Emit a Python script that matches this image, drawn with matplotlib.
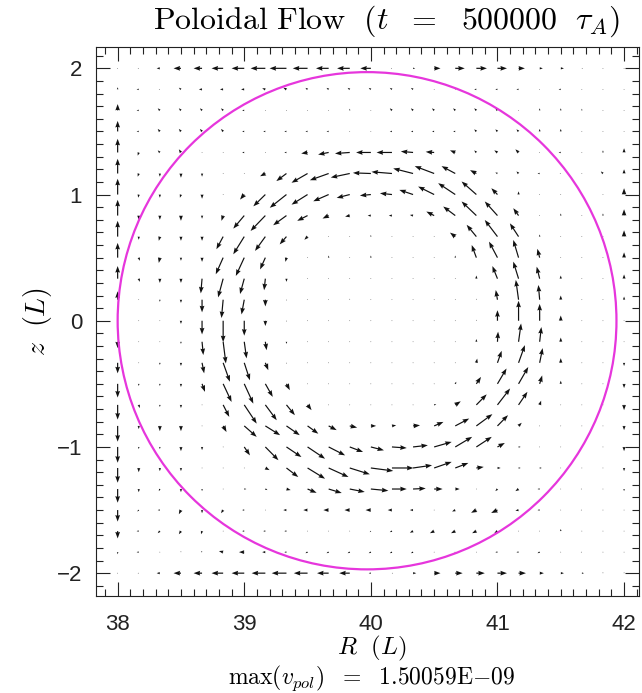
import numpy as np
import matplotlib.pyplot as plt
from matplotlib.patches import Circle
from matplotlib.ticker import MultipleLocator

plt.rcParams['mathtext.fontset'] = 'cm'

# grid of the flow field (R across, z down from the top row)
r_grid = np.linspace(38.0, 42.0, 25)
z_grid = np.linspace(2.0, -2.0, 25)

# v_R and v_z, 10 = longest arrow (one grid cell)
v_r = [
    [0, -0.5, -1.5, -3.5, -4, -5.5, -6, -7, -8, -7, -6, -6, -5, -0.5, 1, 3, 4.5, 5, 4.5, 3, 1.5, 1.5, 0.5, 0.3, 0.3],
    [0, -1, -0.5, -1, -1.5, -1.5, -1.5, -1.5, -1.5, -1, -1, -1, -1, -1, -1, -0.3, -0.3, -1, -1, -1, -0.3, -1, -0.3, -0.3, 0],
    [0, -1, -1, -1, -1, -1, -1, -0.3, -0.3, -0.3, -0.3, 0, -0.3, -1, -1, -1, -1, -1, -1, -0.3, 0, 0, 0, 0, 0],
    [0, -1, -1, -1, -1, -1, -1, -1, -1, -1, -1, -0.3, -0.3, -1, -1, -1, -1, -1, -1, -1, 0, 0, 0, 0, 0],
    [0, -0.5, -1, -1, -0.3, -0.3, -1, -0.3, -1, -3, -5, -7, -7, -7.3, -5.8, -4, -2.5, -1, -1.5, -1.5, -0.3, -1, 0, 0, 0],
    [0, -0.5, 0, 0, 0, -0.3, -0.3, -2.5, -4.8, -7.6, -8.9, -9, -8.5, -9.7, -9.4, -9.2, -6.5, -3, -1, -1, -1, -0.5, -0.3, -1, 0],
    [0, -0.3, 0, -0.5, 0, -0.3, -2, -5.7, -7.9, -7.6, -7.3, -6.2, -5.2, -5.7, -6.5, -7.6, -8.1, -7, -2.9, 0, 0, 0, 0, 0, 0],
    [0, 0, 0, 0, 0, -0.8, -5.2, -7, -6.3, -4.9, -2.9, -2.2, -1.5, -1.5, -1.5, -3.7, -5.7, -7, -6, -2.5, 0, 0, 0, 0, 0],
    [0, 0, -0.5, 0, 0, -3.2, -5.2, -4.9, -3.2, -1.5, 0, 0, 0, 0, 0, 0, -2.5, -4.6, -6, -4.1, 0, 0, 0, 0, 0],
    [0, 0.5, -0.5, 0, 0, -3.5, -4, -2.5, -0.5, 0, 0, 0, 0, 0, 0, 0, 0, -2.2, -4, -2.5, -1.1, 0, 0, 0, 0],
    [0, 0.5, 0, 0, -0.6, -2.4, -2, -0.6, 0, 0, 0, 0, 0, 0, 0, 0, 0, 0, -2.4, -2.5, -1.4, 0, 0, 0, 0],
    [0, -0.3, 0, 0, 0, -0.8, -1.3, 0, 0, 0, 0, 0, 0, 0, 0, 0, 0, 0, -0.8, -1.3, -0.6, 0, 0, 0, 0],
    [0, 0, 0, 0, 0, 0, 0, 0, 0, 0, 0, 0, 0, 0, 0, 0, 0, 0, 0, 0, 0, 0, 0, 0, 0],
    [0, -0.3, 0, 0, 0.6, 1.3, 1.1, 0.6, 0, 0, 0, 0, 0, 0, 0, 0, 0, 0, 0.3, 1.2, 0.8, 0, 0, 0, 0],
    [0, 0, 0, 0, 1, 3.2, 2.7, 1.4, 0, 0, 0, 0, 0, 0, 0, 0, 0, 0.4, 2, 3, 1.4, 0, 0, 0, 0],
    [0, 0, 0, 0, 1.4, 4, 4.3, 3.5, 1.6, 0, 0, 0, 0, 0, 0, 0, 0.5, 2.2, 4.3, 4.6, 1.2, 0, 0, 0, 0],
    [0, 0.5, 0, 0, 0, 2.9, 5.9, 5.4, 4, 1.9, 0, 0, 0, 0, 0, 1, 2.6, 4.9, 6, 4.2, 0.7, 0, 0, 0, 0],
    [0, 0, 0, 0, 0, 1.6, 5.9, 7, 6.3, 5.1, 3.8, 3.5, 2.5, 2, 3.3, 4.4, 6.6, 7.6, 5, 1.5, 0, 0, 0, 0, 0],
    [0, 0, 0, 0, 0, 0, 2.7, 6.2, 7.1, 8.3, 7.8, 6.3, 6.2, 7, 7, 8.3, 8, 7.3, 3.5, 1, 0, 0, 0, 0, 0],
    [0, 0, 0, 0, 0, 0, 0, 2, 5.6, 8.3, 9.4, 9.5, 10.6, 10.2, 9, 8.3, 6.2, 3.5, 1.5, 1, 1, 0, 0, 0, 0],
    [0, 0, -0.5, 0, 0, 0, 1, 1, 2, 4.3, 6.2, 7.1, 8.3, 7, 6, 4, 2.1, 0, -1, -1.5, -1, 0, -0.5, 0, 0],
    [0, -0.7, -1, -1, 0, -1, -1, -0.3, -1.5, -2, -2.5, -2.5, -2.5, -2, -1.5, 0, -1.5, -2.5, -3, -1.5, -1, 0, -0.5, 0, 0],
    [0, -1, -1, -1, -0.5, 0, -1, -1, -1, -0.3, -0.3, -0.3, -0.5, -1, -1.5, -2, -2, -2, -1.5, 0, 0, 0, 0, 0, 0],
    [0, -1, 0, 0, -0.5, -2, -2.5, -1.5, -1, -1, -1, -1, -1, -1, -1, 0, -0.5, 0, -1, -1, -1, 0, -0.5, 0, 0],
    [0, -0.5, -1.5, -3.5, -4, -5.5, -6, -6.5, -7, -6.5, -5.5, -5, -1, 0.5, 1.5, 3, 3.5, 4, 4.5, 3.5, 2, 1.5, 1, 0, 0],
]
v_z = [
    [0, 0, 0, 0, 0, 0, 0, 0, 0, 0, 0, 0, 0, 0, 0, 0, 0, 0, 0, 0, 0, 0, 0, 0, 0],
    [1, 0, 0, 0.8, 0, 0, 0, 0.5, 0.8, 0.7, 0.7, 0.7, 0.7, 0.7, 0.7, 0, 0, 0, 0, 0, 0, 0, 0, 0, 0],
    [3, 0, 1, 1, 1, 1, 0, 0, 0, 0, 0, 0.8, 0, 1, 1, 1, 1, 1, 1, 0, 1, 1, 0.8, 0, 0],
    [5, 0, 1.2, 1.2, 1.2, 1.2, 0, 0, 0, 0, 0, 0, 0, 0, 0, 0, 0, 1, 1, 1, 1.2, 1.2, 0, 0, 0],
    [6.5, -1.5, 1, 1.5, 0, 0, 0, 0, 0, -0.5, -1, -0.5, 0, 0, 0.5, 0.3, 1, 1, 1, 1.5, 0, 0, 0, 1, 2],
    [7, -1.5, -1.5, -2, -1.5, 0, 0, -1.3, -3.6, -4.4, -3.2, -1.9, 0.3, 0.8, 2.4, 3.5, 3.5, 1.6, 0.5, 1, 0, 0, 0, 1, 2],
    [7.5, -1.5, -1.5, -1.5, -2, 0, -2.4, -5.6, -6.3, -4.8, -3.2, -1.6, -0.5, 0.6, 2.2, 3.8, 5.4, 6.2, 3, 1.5, 0, 0, 0, 0, 3],
    [7.5, -2, -2, -2.5, -1.5, -2.5, -6.2, -7.3, -4.6, -2.5, -1.4, -0.5, 0, 0, 0.3, 1.9, 4.3, 6.7, 6.7, 3.5, 0, 1, 0, 1, 3],
    [7.5, -1.5, -2, -2, -2, -6, -8.4, -6.8, -3.7, -1.5, 0, 0, 0.8, 0, 0, 0, 1.9, 5.6, 7.9, 6.3, 1, 0, 0, 0, 3],
    [7, -1.5, -2.5, -1.5, -2, -7.9, -8.7, -5.6, -2, 0, 1, 0, 1, 0, 0, 0, 1, 6, 7.6, 8.4, 4.2, 0, 0, 0, 2.5],
    [6, -1.5, -2, -2, -7, -8.9, -7.3, -5.5, -1.5, 0, 0, 0, 0, 0, 0, 0, 0, 1.5, 6, 8.1, 5.7, 1.5, 0, 0, 2],
    [4, 0, -1, -1.5, -6, -8.7, -7, -3.2, -0.5, 0, 0, 0.5, 0, 0, 0, 0, 0, 0.5, 4.6, 9.4, 7, 2, 0, 0, 1.5],
    [0.5, 0, 0, -1.5, -6.5, -10.2, -7.1, -2.5, -0.5, 0, 0, 0, 0, 0, 0, 0, 0, 0.5, 5, 9.5, 8, 2.5, 0, 0, 0],
    [-3, 0, 0, -1, -6.3, -10.3, -7.9, -4, -1, 0, 0, 0, 0, 0, 0, 0, 0, 1.3, 4.8, 8.7, 7, 2, 0, 0, 0],
    [-5, 0, -1, -1.5, -5, -9, -8.3, -3.5, -0.5, 0, 0, 0, 0, 0, 0, 0, 0, 2, 5.7, 8.4, 7, 2.2, 0, 0, -1.5],
    [-6.5, -1, -1, -1.5, -3.8, -8.6, -9.4, -6.2, -3, 0, 0, 0, 0, 0, 0, 0, 1, 3.3, 7.3, 8, 4, 1.5, 0, 0, -2],
    [-7, -1.5, -1, -1.5, 0, -5.7, -8.9, -7.3, -4.9, -2.5, 0, 0, 0, 0, 0, 0.3, 1.7, 5, 7.8, 6.2, 2, 0, 0, 0, -2.5],
    [-7.5, -1.5, -2.5, -2.5, 0, -2.9, -5.2, -4.4, -4.4, -3.7, -2, -0.8, 0, 0.3, 0.3, 1.9, 3.5, 5.6, 5.1, 1.5, 0, 0, 0, 0, -2],
    [-7.5, -1, -1, -2, -1.5, 0, -4, -6.3, -4.8, -5.6, -4, -2.4, -1.6, -0.5, 0.8, 2.4, 4.8, 4.8, 1.9, 0, 0, 0, 0, 0, -2],
    [-7, -2, -1.5, -1.5, 0, 0, 0, -1, -4.3, -5.1, -4.3, -3, -1.4, 0, 1.3, 2.9, 2.4, 0.5, 0, 0, 0, 0, 0, 0, -1.5],
    [-6.5, -1.5, -1, -1.5, -1, 0, 0, -0.5, -0.5, -1.8, -1.9, -1.4, -0.8, 0, 0.3, 0, 0, 0, -1, -1, 0, 0, 0, 0, -1],
    [-5.5, -0.7, 0, -2, -1.5, -1.5, 0, 0, 0, 0, 0, 0, 0, 0, 0, 0, -0.7, -1.3, -1.4, -0.3, 0, 0, 0, 0, 0],
    [-3.5, 0, -1, -1.5, -1.5, 0, 0, 0, 0, 0, 0, 0, -0.5, -0.5, -0.8, -1, -1, -1, -1, 0, 0, 1, 0, 0, 0],
    [-1, 0, 0, 0.5, 0.5, 0.5, 0, 0, 0, -0.5, -0.5, -0.5, -0.5, -0.5, -0.5, 0, 0, 0, 0, 0, -0.5, 0, 0, 0, 0],
    [0, 0, 0, 0, 0, 0, 0, 0, 0, 0, 0, 0, 0, 0, 0, 0, 0, 0, 0, 0, 0, 0, 0, 0.5, 0.5],
]

# last closed flux surface drawn in magenta
circle_center = (39.97, 0.0)
circle_radius = 1.97

fig = plt.figure(figsize=(6.42, 6.93), dpi=100)
ax = fig.add_axes([96 / 642, 97 / 693, 543 / 642, 549 / 693])

R, Z = np.meshgrid(r_grid, z_grid)
ax.quiver(R, Z, np.array(v_r), np.array(v_z), pivot='tail', angles='xy',
          scale_units='xy', scale=60, color='#111111', width=0.0022,
          headwidth=4, headlength=5.5, headaxislength=5, minlength=0.6)

ax.add_patch(Circle(circle_center, circle_radius, fill=False,
                    edgecolor='#e636dc', lw=1.6))

ax.set_xlim(37.829, 42.118)
ax.set_ylim(-2.181, 2.169)
ax.set_xticks([38, 39, 40, 41, 42])
ax.set_yticks([-2, -1, 0, 1, 2])
ax.xaxis.set_minor_locator(MultipleLocator(0.1))
ax.yaxis.set_minor_locator(MultipleLocator(0.1))
ax.tick_params(which='both', direction='in', top=True, right=True, width=0.8,
               labelsize=16, colors='#222222')
ax.tick_params(axis='x', which='major', pad=13)
ax.tick_params(axis='y', which='major', pad=10)
ax.tick_params(which='major', length=10)
ax.tick_params(which='minor', length=5)
for lab in ax.get_xticklabels() + ax.get_yticklabels():
    lab.set_family('Liberation Sans')
for s in ax.spines.values():
    s.set_linewidth(0.8)
    s.set_color('#222222')

fig.text(386 / 642, 1 - 21 / 693,
         r'$\mathrm{Poloidal\ Flow\ \ (}t\ \ =\ \ \mathrm{500000}\ \ \tau_A\mathrm{)}$',
         fontsize=23, ha='center', va='center')
fig.text(372 / 642, 1 - 648 / 693, r'$R\ \ \mathrm{(}L\mathrm{)}$',
         fontsize=18, ha='center', va='center')
fig.text(38 / 642, 1 - 322 / 693, r'$z\ \ \mathrm{(}L\mathrm{)}$',
         fontsize=20, ha='center', va='center', rotation=90)
fig.text(372 / 642, 1 - 678 / 693, r'$\mathrm{max}(v_{pol})\ \ =\ \ 1.50059\mathrm{E}{-}09$',
         fontsize=17, ha='center', va='center')

fig.savefig('out.png', dpi=100)
